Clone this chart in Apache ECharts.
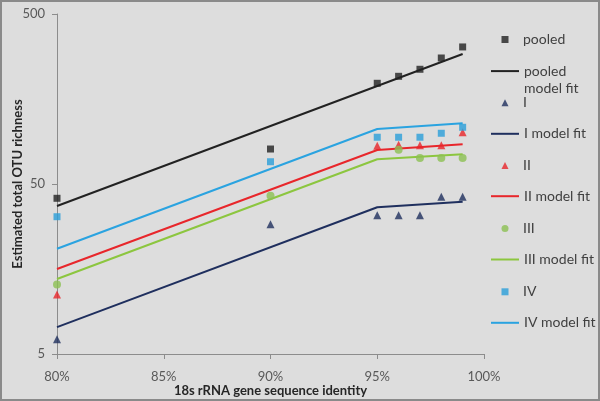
<!DOCTYPE html>
<html>
<head>
<meta charset="utf-8">
<script src="https://cdn.jsdelivr.net/npm/echarts@6/dist/echarts.min.js"></script>
<style>
html,body{margin:0;padding:0;background:#dddddd;}
#chart{width:600px;height:401px;}
</style>
</head>
<body>
<div id="chart"></div>
<script>
// Observed identity thresholds (%)
var identity = [80, 90, 95, 96, 97, 98, 99];
// Observed richness
var pooled = [41.2, 80.3, 195.6, 215, 236.5, 275.5, 320];
var groupI = [6.1, 29.0, 32.7, 32.7, 32.7, 42.1, 42.1];
var groupII = [11.2, null, 84, 85, 84.5, 84.5, 100.7];
var groupIII = [12.8, 42.7, null, 79.6, 71.1, 71.1, 71.1];
var groupIV = [32.1, 67.6, 94.2, 94.2, 94.2, 99.4, 107.8];
// Model fit
var fitIdentity = [80, 95, 99];
var pooledFit = [37.1, 188.6, 291];
var groupIFit = [7.2, 36.5, 39.3];
var groupIIFit = [15.8, 79.2, 85.6];
var groupIIIFit = [13.8, 69.9, 74.8];
var groupIVFit = [20.8, 105.3, 113.7];
// Axis ticks
var yTicks = [5, 50, 500];

var FONT = 'Lato';

function pairs(xs, ys) {
  var out = [];
  for (var i = 0; i < xs.length; i++) {
    if (ys[i] != null) out.push([xs[i], ys[i]]);
  }
  return out;
}

var defs = [
  {name: 'pooled', type: 'scatter', data: pairs(identity, pooled), color: '#222222', symbol: 'rect', size: 7},
  {name: 'pooled model fit', type: 'line', data: pairs(fitIdentity, pooledFit), color: '#222222'},
  {name: 'I', type: 'scatter', data: pairs(identity, groupI), color: '#1f2f5e', symbol: 'triangle', size: 8},
  {name: 'I model fit', type: 'line', data: pairs(fitIdentity, groupIFit), color: '#1f2f5e'},
  {name: 'II', type: 'scatter', data: pairs(identity, groupII), color: '#e8262b', symbol: 'triangle', size: 8},
  {name: 'II model fit', type: 'line', data: pairs(fitIdentity, groupIIFit), color: '#e8262b'},
  {name: 'III', type: 'scatter', data: pairs(identity, groupIII), color: '#8cc152', symbol: 'circle', size: 8},
  {name: 'III model fit', type: 'line', data: pairs(fitIdentity, groupIIIFit), color: '#8cc63f'},
  {name: 'IV', type: 'scatter', data: pairs(identity, groupIV), color: '#2a9fd9', symbol: 'rect', size: 7},
  {name: 'IV model fit', type: 'line', data: pairs(fitIdentity, groupIVFit), color: '#2aa3e0'}
];

var series = defs.map(function (d) {
  if (d.type === 'scatter') {
    return {
      name: d.name, type: 'scatter', data: d.data, symbol: d.symbol, symbolSize: d.size,
      itemStyle: {color: d.color}, z: 3
    };
  }
  return {
    name: d.name, type: 'line', data: d.data, showSymbol: false, symbol: 'none',
    lineStyle: {color: d.color, width: 2}, itemStyle: {color: d.color}, z: 2
  };
});

var legendY = [40, 71.7, 103.3, 134.3, 166, 196.7, 229, 260, 292.3, 323.3];
var legends = defs.map(function (d, i) {
  var isLine = d.type === 'line';
  var lg = {
    data: [d.name],
    orient: 'vertical',
    padding: 0,
    left: isLine ? 491 : 505 - 3.5,
    top: legendY[i] - 7.5,
    itemWidth: isLine ? 28 : 7,
    itemHeight: isLine ? 2 : 7,
    icon: isLine ? 'rect' : d.symbol,
    selectedMode: false,
    textStyle: {
      fontFamily: FONT, fontSize: 14, color: '#404040',
      padding: isLine ? [0, 0, 0, 0] : [0, 0, 0, 9.5]
    }
  };
  if (d.name === 'pooled model fit') {
    lg.formatter = function () { return '\npooled\nmodel fit'; };
    lg.textStyle.lineHeight = 17.6;
    lg.top = legendY[i] - 27;
  }
  return lg;
});

var chart = echarts.init(document.getElementById('chart'), null, {renderer: 'canvas'});
chart.setOption({
  animation: false,
  backgroundColor: '#dddddd',
  grid: {left: 57, right: 116, top: 14, bottom: 47, containLabel: false, outerBoundsMode: 'none'},
  legend: legends,
  xAxis: {
    type: 'value', min: 80, max: 100, interval: 5,
    name: '18s rRNA gene sequence identity', nameLocation: 'middle', nameGap: 30,
    nameMoveOverlap: false,
    nameTextStyle: {fontFamily: FONT, fontSize: 13, fontWeight: 'bold', color: '#262626'},
    axisLine: {show: true, lineStyle: {color: '#8c8c8c', width: 1}},
    axisTick: {show: true, length: 5, lineStyle: {color: '#8c8c8c'}},
    axisLabel: {formatter: '{value}%', fontFamily: FONT, fontSize: 13, color: '#595959', margin: 16},
    splitLine: {show: false}
  },
  yAxis: {
    type: 'log', logBase: 10, min: 5, max: 500,
    name: 'Estimated total OTU richness', nameLocation: 'middle', nameGap: 33,
    nameMoveOverlap: false,
    nameTextStyle: {fontFamily: FONT, fontSize: 13, fontWeight: 'bold', color: '#262626'},
    axisLine: {show: true, lineStyle: {color: '#8c8c8c', width: 1}},
    axisTick: {show: true, length: 5, lineStyle: {color: '#8c8c8c'}, customValues: yTicks},
    axisLabel: {fontFamily: FONT, fontSize: 13, color: '#595959', margin: 12, customValues: yTicks},
    splitLine: {show: false}
  },
  graphic: [{
    type: 'rect', silent: true, z: 100,
    shape: {x: 1, y: 1, width: 598, height: 399},
    style: {fill: null, stroke: '#8a8a8a', lineWidth: 2}
  }],
  series: series
});
</script>
</body>
</html>
